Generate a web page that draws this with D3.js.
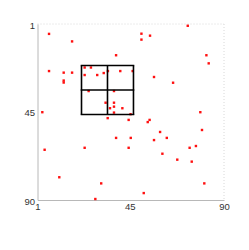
<!DOCTYPE html>
<html>
<head>
<meta charset="utf-8">
<script src="https://cdn.jsdelivr.net/npm/d3@7"></script>
<style>
  html, body { margin: 0; padding: 0; background: #fff; }
  svg { display: block; }
  text { font-family: "Liberation Sans", Arial, sans-serif; }
</style>
</head>
<body>
<svg id="chart" width="249" height="250"></svg>
<script>
// Tick labels
const xTicks = [1, 45, 90];
const yTicks = [1, 45, 90];
// Points (column, row)
const xs = [6.5, 17.5, 38.5, 6.5, 13.5, 17.5, 13.5, 13.5, 23.5, 26.5, 23.5, 29.5, 32.6, 34.6, 40.5, 46.4,
  25.4, 37.5, 33.5, 37.5, 35.6, 37.5, 41.5, 37.5, 3.3, 34.5, 45.4, 44.5, 72.7, 50.6, 54.7, 50.6,
  81.6, 82.7, 56.6, 65.7, 78.7, 54.5, 53.6, 4.4, 23.5, 38.5, 11.4, 31.4, 28.6, 45.5, 44.5, 59.5,
  56.6, 62.7, 79.5, 73.6, 76.6, 60.6, 67.7, 74.6, 80.6, 51.7];
const ys = [6, 9.8, 16.8, 24.8, 25.6, 25.6, 29.6, 30.6, 23, 23, 26.8, 26.8, 25.8, 24.8, 24.8, 24.8,
  34.9, 34.9, 40.8, 40.8, 43.6, 42.8, 43.6, 45.8, 45.6, 48.6, 46.6, 49.5, 1.9, 5.9, 6.9, 8.9,
  16.8, 20.9, 27.8, 30.7, 45.6, 49.5, 50.6, 64.6, 63.6, 58.6, 78.5, 81.6, 89.5, 58.6, 63.6, 55.6,
  59.7, 58.6, 54.6, 63.6, 62.7, 66.6, 69.6, 70.6, 81.6, 86.5];
// Grid block edges (same for both directions)
const gridEdges = [22, 34.4, 46.8];

const svg = d3.select("#chart");
const x = d3.scaleLinear().domain([1, 90]).range([37.5, 224]);
const y = d3.scaleLinear().domain([1, 90]).range([24, 200]);

// frame: dotted top and right
svg.append("line").attr("x1", x(1)).attr("x2", x(90)).attr("y1", y(1)).attr("y2", y(1))
  .attr("stroke", "#d8d8d8").attr("stroke-width", 1).attr("stroke-dasharray", "1,2");
svg.append("line").attr("x1", x(90)).attr("x2", x(90)).attr("y1", y(1)).attr("y2", y(90))
  .attr("stroke", "#d8d8d8").attr("stroke-width", 1).attr("stroke-dasharray", "1,2");

// axes
const xAxis = svg.append("g").attr("transform", `translate(0,${y(90)})`)
  .call(d3.axisBottom(x).tickValues(xTicks).tickSize(0).tickPadding(3).tickFormat(d3.format("d")));
const yAxis = svg.append("g").attr("transform", `translate(${x(1)},0)`)
  .call(d3.axisLeft(y).tickValues(yTicks).tickSize(0).tickPadding(2.5).tickFormat(d3.format("d")));
[xAxis, yAxis].forEach(g => {
  g.select(".domain").attr("stroke", "#b8b8b8").attr("stroke-width", 1);
  g.selectAll("text").attr("fill", "#333").style("font-size", "9.5px")
    .style("font-family", "'Liberation Sans', Arial, sans-serif");
});
yAxis.selectAll("text").attr("dy", "0.42em");

// points
const pts = xs.map((v, i) => [v, ys[i]]);
svg.append("g").selectAll("rect").data(pts).join("rect")
  .attr("x", d => x(d[0]) - 1.2).attr("y", d => y(d[1]) - 1.2)
  .attr("width", 2.4).attr("height", 2.4)
  .attr("fill", "#ff1010");

// grid block
const gg = svg.append("g").attr("stroke", "#000").attr("stroke-width", 1.6).attr("fill", "none");
gg.selectAll("line.v").data(gridEdges).join("line").attr("class", "v")
  .attr("x1", d => x(d)).attr("x2", d => x(d))
  .attr("y1", y(gridEdges[0])).attr("y2", y(gridEdges[2]));
gg.selectAll("line.h").data(gridEdges).join("line").attr("class", "h")
  .attr("y1", d => y(d)).attr("y2", d => y(d))
  .attr("x1", x(gridEdges[0]) - 0.8).attr("x2", x(gridEdges[2]) + 0.8);
</script>
</body>
</html>
